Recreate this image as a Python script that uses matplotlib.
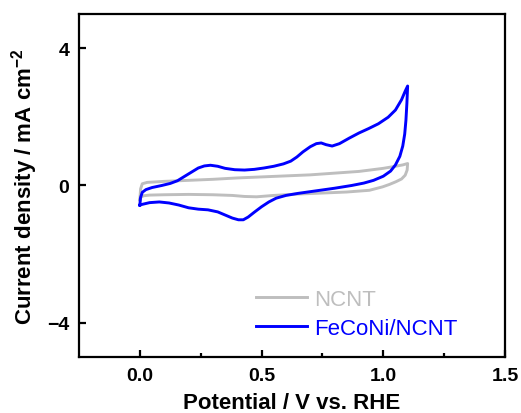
import numpy as np
import matplotlib
matplotlib.use('Agg')
import matplotlib.pyplot as plt


# Cyclic voltammograms: anodic (forward) and cathodic (reverse) sweeps
# FeCoNi/NCNT
feconi_fwd_v = [0.000, 0.003, 0.010, 0.025, 0.050, 0.090, 0.125, 0.155, 0.180, 0.210,
                0.240, 0.265, 0.290, 0.320, 0.350, 0.390, 0.430, 0.470, 0.510, 0.550,
                0.590, 0.620, 0.645, 0.670, 0.700, 0.725, 0.745, 0.765, 0.790, 0.820,
                0.860, 0.900, 0.940, 0.980, 1.020, 1.050, 1.075, 1.090, 1.100]
feconi_fwd_j = [-0.57, -0.35, -0.20, -0.12, -0.06, 0.00, 0.06, 0.14, 0.25, 0.38,
                0.51, 0.57, 0.59, 0.56, 0.50, 0.46, 0.45, 0.47, 0.51, 0.56,
                0.63, 0.71, 0.83, 0.98, 1.13, 1.22, 1.24, 1.19, 1.15, 1.22,
                1.38, 1.53, 1.66, 1.80, 1.99, 2.20, 2.50, 2.75, 2.90]
feconi_rev_v = [1.100, 1.097, 1.093, 1.088, 1.080, 1.068, 1.050, 1.030, 1.000, 0.960,
                0.920, 0.870, 0.800, 0.720, 0.650, 0.600, 0.560, 0.530, 0.500, 0.470,
                0.445, 0.425, 0.405, 0.380, 0.350, 0.320, 0.280, 0.240, 0.200, 0.160,
                0.120, 0.080, 0.040, 0.010, 0.000]
feconi_rev_j = [2.90, 2.40, 1.90, 1.50, 1.15, 0.85, 0.60, 0.42, 0.27, 0.15,
                0.07, 0.00, -0.08, -0.16, -0.23, -0.29, -0.37, -0.48, -0.62, -0.78,
                -0.92, -1.00, -1.00, -0.95, -0.86, -0.77, -0.71, -0.69, -0.65, -0.57,
                -0.51, -0.48, -0.50, -0.55, -0.57]

# NCNT
ncnt_fwd_v = [0.000, 0.003, 0.010, 0.030, 0.100, 0.200, 0.300, 0.400, 0.500, 0.600,
              0.700, 0.800, 0.900, 0.945, 1.000, 1.050, 1.080, 1.100]
ncnt_fwd_j = [-0.42, -0.10, 0.05, 0.09, 0.12, 0.15, 0.18, 0.22, 0.25, 0.28,
              0.31, 0.36, 0.41, 0.45, 0.50, 0.56, 0.60, 0.64]
ncnt_rev_v = [1.100, 1.098, 1.090, 1.075, 1.052, 1.025, 0.997, 0.943, 0.850, 0.750,
              0.650, 0.550, 0.480, 0.430, 0.380, 0.300, 0.200, 0.100, 0.040, 0.015,
              0.003, 0.000]
ncnt_rev_j = [0.64, 0.45, 0.30, 0.19, 0.11, 0.03, -0.04, -0.14, -0.19, -0.22,
              -0.25, -0.29, -0.33, -0.32, -0.29, -0.27, -0.26, -0.27, -0.28, -0.30,
              -0.35, -0.42]

x_ticks = [0.0, 0.5, 1.0, 1.5]
y_ticks = [-4, 0, 4]

plt.rcParams['font.family'] = ['Liberation Sans', 'DejaVu Sans']
plt.rcParams['mathtext.fontset'] = 'custom'
plt.rcParams['mathtext.rm'] = 'Liberation Sans'
plt.rcParams['mathtext.bf'] = 'Liberation Sans:bold'

fig = plt.figure(figsize=(5.21, 4.14), dpi=100)
ax = fig.add_axes([0.1516, 0.1353, 0.8177, 0.8285])

ax.plot(ncnt_fwd_v + ncnt_rev_v, ncnt_fwd_j + ncnt_rev_j,
        color='#bebebe', lw=2.1, label='NCNT')
ax.plot(feconi_fwd_v + feconi_rev_v, feconi_fwd_j + feconi_rev_j,
        color='#0000ff', lw=2.1, label='FeCoNi/NCNT')

ax.set_xlim(-0.25, 1.5)
ax.set_ylim(-5, 5)
ax.set_xticks(x_ticks)
ax.set_xticklabels([f'{t:.1f}' for t in x_ticks])
ax.set_xticks([0.25, 0.75, 1.25], minor=True)
ax.set_yticks(y_ticks)

for s in ax.spines.values():
    s.set_linewidth(1.6)

ax.tick_params(which='major', direction='in', length=5, width=1.6,
               labelsize=14, pad=7)
ax.tick_params(which='minor', direction='in', length=3, width=1.6)
for lbl in ax.get_xticklabels() + ax.get_yticklabels():
    lbl.set_fontweight('bold')

ax.set_xlabel('Potential / V vs. RHE', fontsize=16, fontweight='bold', labelpad=6)
ax.set_ylabel('Current density / mA cm$^{\\mathbf{-2}}$', fontsize=16,
              fontweight='bold', labelpad=5)

leg = ax.legend(loc='lower left', bbox_to_anchor=(0.416, 0.052), frameon=False,
                fontsize=16, handlelength=2.3, handletextpad=0.3,
                labelspacing=0.38, borderpad=0, borderaxespad=0)
for txt, line in zip(leg.get_texts(), leg.get_lines()):
    txt.set_color(line.get_color())

fig.savefig('out.png', dpi=100)
